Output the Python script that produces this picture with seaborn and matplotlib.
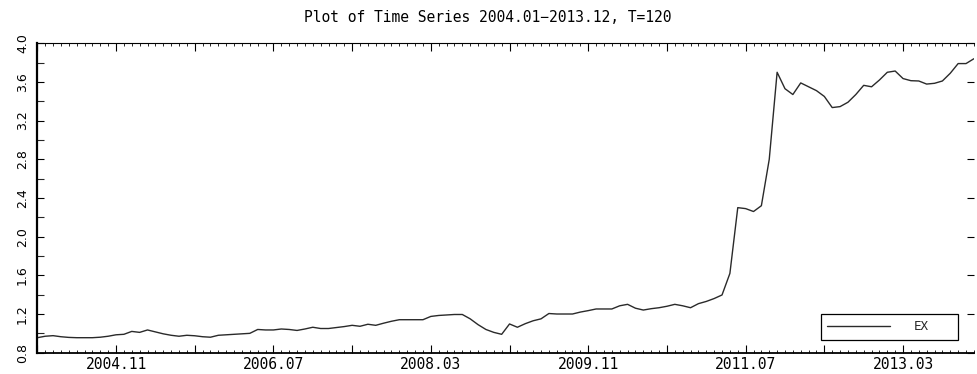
import matplotlib
matplotlib.use("Agg")
import matplotlib.pyplot as plt
from matplotlib.ticker import FixedLocator, MultipleLocator, FixedFormatter
import numpy as np
import pandas as pd
import seaborn as sns

# Monthly EX series, 2004.01 - 2013.12 (T = 120)
ex_values = [
    0.955, 0.970, 0.976, 0.965, 0.958, 0.955, 0.955, 0.955, 0.960, 0.970,
    0.985, 0.990, 1.020, 1.010, 1.035, 1.015, 0.995, 0.980, 0.970, 0.980,
    0.975, 0.965, 0.960, 0.980, 0.985, 0.990, 0.995, 1.000, 1.040, 1.035,
    1.035, 1.045, 1.040, 1.030, 1.045, 1.063, 1.050, 1.050, 1.060, 1.070,
    1.083, 1.073, 1.094, 1.083, 1.105, 1.125, 1.141, 1.141, 1.141, 1.141,
    1.175, 1.185, 1.190, 1.195, 1.195, 1.150, 1.090, 1.040, 1.010, 0.990,
    1.097, 1.063, 1.100, 1.130, 1.150, 1.205, 1.200, 1.200, 1.200, 1.220,
    1.235, 1.252, 1.252, 1.252, 1.285, 1.300, 1.260, 1.241, 1.255, 1.265,
    1.280, 1.300, 1.285, 1.265, 1.307, 1.330, 1.360, 1.397, 1.620, 2.300,
    2.290, 2.260, 2.320, 2.800, 3.700, 3.530, 3.470, 3.590, 3.550, 3.510,
    3.450, 3.335, 3.345, 3.390, 3.470, 3.565, 3.550, 3.620, 3.700, 3.713,
    3.635, 3.613, 3.610, 3.578, 3.586, 3.610, 3.690, 3.790, 3.790, 3.840,
]
periods = list(range(len(ex_values)))

# Labelled x positions (month index) and their labels
label_positions = [10, 30, 50, 70, 90, 110]
label_texts = ["2004.11", "2006.07", "2008.03", "2009.11", "2011.07", "2013.03"]
major_x = list(range(0, 120, 10))

y_ticks = [0.8, 1.2, 1.6, 2.0, 2.4, 2.8, 3.2, 3.6, 4.0]
y_labels = ["0.8", "1.2", "1.6", "2.0", "2.4", "2.8", "3.2", "3.6", "4.0"]

title_text = "Plot of Time Series 2004.01\u22122013.12, T=120"

df = pd.DataFrame({"t": periods, "EX": ex_values})

sns.set_style("ticks")
plt.rcParams["font.family"] = ["DejaVu Sans Mono", "DejaVu Sans"]

fig = plt.figure(figsize=(9.77, 3.74), dpi=100)
ax = fig.add_axes([0.0382, 0.0570, 0.9586, 0.8273])

sns.lineplot(data=df, x="t", y="EX", ax=ax, color="#2a2a2a",
             linewidth=1.0, label="EX")

ax.set_xlim(0, 119)
ax.set_ylim(0.8, 4.0)
ax.set_xlabel("")
ax.set_ylabel("")

# x axis: major every 10 months, labels every 20, minor every month
ax.xaxis.set_major_locator(FixedLocator(major_x))
ax.xaxis.set_major_formatter(FixedFormatter(
    [label_texts[label_positions.index(p)] if p in label_positions else ""
     for p in major_x]))
ax.xaxis.set_minor_locator(MultipleLocator(1))

# y axis
ax.yaxis.set_major_locator(FixedLocator(y_ticks))
ax.yaxis.set_major_formatter(FixedFormatter(y_labels))
ax.yaxis.set_minor_locator(MultipleLocator(0.2))

ax.tick_params(axis="x", which="major", direction="in", length=5.5, width=0.8,
               top=True, bottom=True, pad=3, labelsize=10.5, colors="black")
ax.tick_params(axis="x", which="minor", direction="in", length=2.2, width=0.7,
               top=True, bottom=True)
ax.tick_params(axis="y", which="major", direction="in", length=5, width=0.8,
               left=True, right=True, pad=6, labelsize=9, colors="black")
ax.tick_params(axis="y", which="minor", direction="in", length=5, width=0.8,
               left=True, right=False)

for lbl in ax.get_yticklabels():
    lbl.set_rotation(90)
    lbl.set_va("center")
    lbl.set_family(["DejaVu Sans"])

ax.spines["left"].set_linewidth(1.6)
ax.spines["bottom"].set_linewidth(1.3)
ax.spines["top"].set_linewidth(0.8)
ax.spines["right"].set_visible(False)
for s in ["left", "bottom", "top"]:
    ax.spines[s].set_color("black")

fig.text(0.499, 1 - 18 / 374, title_text, ha="center", va="center",
         fontsize=10.5, color="black")

leg = ax.legend(loc="center", bbox_to_anchor=(0.8403, 0.0864, 0.1398, 0.0786),
                bbox_transform=fig.transFigure, mode="expand", borderaxespad=0,
                frameon=True, fancybox=False, fontsize=9, handlelength=5.0,
                handletextpad=1.9, borderpad=0.5)
leg.get_frame().set_edgecolor("black")
leg.get_frame().set_linewidth(0.9)
leg.get_frame().set_facecolor("white")
leg.get_frame().set_alpha(1)

fig.savefig("out.png", dpi=100)
